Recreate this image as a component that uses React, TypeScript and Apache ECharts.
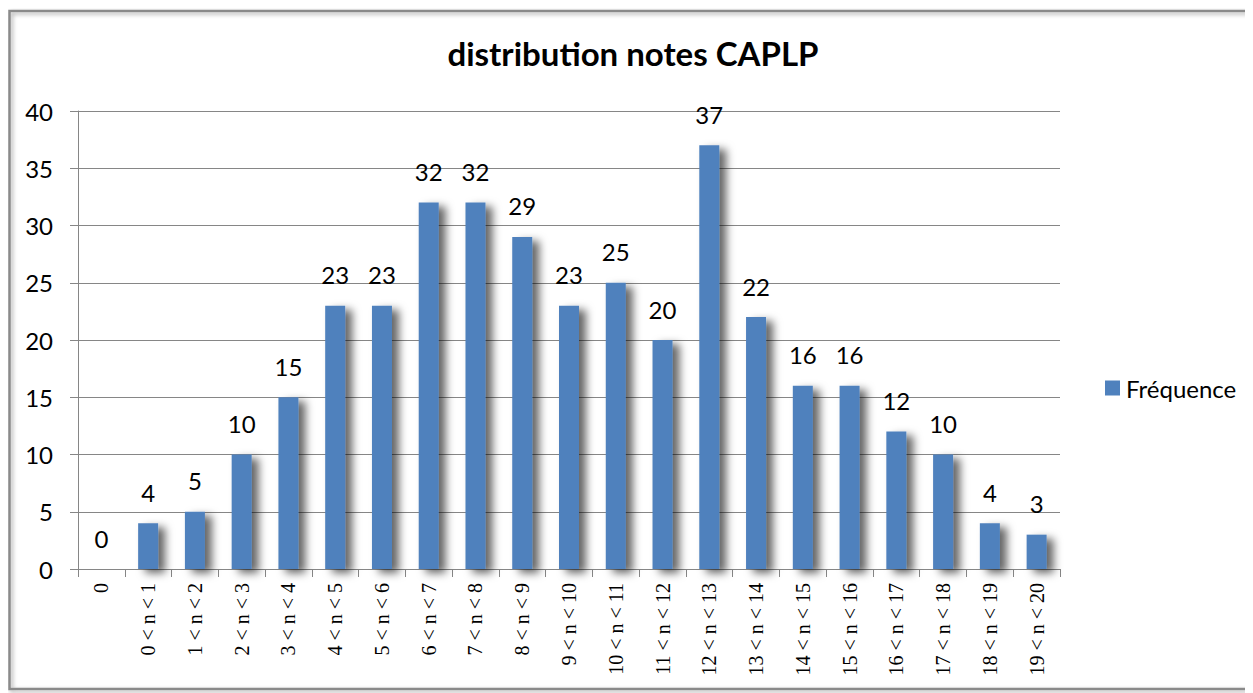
import React, { useEffect, useRef } from "react";
import * as echarts from "echarts";

const categories = [
  "0", "0 < n < 1", "1 < n < 2", "2 < n < 3", "3 < n < 4", "4 < n < 5",
  "5 < n < 6", "6 < n < 7", "7 < n < 8", "8 < n < 9", "9 < n < 10",
  "10 < n < 11", "11 < n < 12", "12 < n < 13", "13 < n < 14", "14 < n < 15",
  "15 < n < 16", "16 < n < 17", "17 < n < 18", "18 < n < 19", "19 < n < 20",
];
const frequence = [0, 4, 5, 10, 15, 23, 23, 32, 32, 29, 23, 25, 20, 37, 22, 16, 16, 12, 10, 4, 3];
const yTicks = { min: 0, max: 40, interval: 5 };
const titleText = "distribution notes CAPLP";
const seriesName = "Fréquence";

export default function App() {
  const ref = useRef<HTMLDivElement>(null);
  useEffect(() => {
    if (!ref.current) return;
    const chart = echarts.init(ref.current, undefined, { renderer: "svg" });
    const sans = "Lato, 'Liberation Sans', sans-serif";
    chart.setOption({
      animation: false,
      backgroundColor: "#ffffff",
      graphic: [
        {
          type: "polyline",
          shape: { points: [[1320, 3], [1.5, 3], [1.5, 681], [1320, 681]] },
          style: {
            fill: "none",
            stroke: "#8a8a8a",
            lineWidth: 2.5,
            shadowBlur: 4,
            shadowOffsetX: 2,
            shadowOffsetY: 2,
            shadowColor: "rgba(0,0,0,0.35)",
          },
          silent: true,
          z: 100,
        },
        {
          type: "text",
          x: 625,
          y: 45,
          style: {
            text: titleText,
            font: `bold 33px ${sans}`,
            fill: "#000000",
            textAlign: "center",
            textVerticalAlign: "middle",
          },
        },
      ],
      legend: {
        left: 1092,
        top: 363,
        itemWidth: 15,
        itemHeight: 15,
        icon: "rect",
        data: [seriesName],
        textStyle: { fontFamily: sans, fontSize: 24, color: "#000", padding: [0, 0, 0, 1] },
      },
      grid: { left: 70, top: 103, width: 982, height: 458, containLabel: false },
      xAxis: {
        type: "category",
        data: categories,
        boundaryGap: true,
        axisLine: { show: true, lineStyle: { color: "#868686", width: 1 } },
        axisTick: { show: true, length: 8, lineStyle: { color: "#868686" }, interval: 0 },
        axisLabel: {
          interval: 0,
          rotate: 90,
          margin: 14,
          fontFamily: "'Liberation Serif', 'Times New Roman', serif",
          fontSize: 20,
          color: "#000",
        },
      },
      yAxis: {
        type: "value",
        min: yTicks.min,
        max: yTicks.max,
        interval: yTicks.interval,
        axisLine: { show: true, lineStyle: { color: "#868686", width: 1 } },
        axisTick: { show: true, length: 8, lineStyle: { color: "#868686" } },
        splitLine: { show: true, lineStyle: { color: "#868686", width: 1 } },
        axisLabel: { margin: 25, fontFamily: sans, fontSize: 24, color: "#000" },
      },
      series: [
        {
          name: seriesName,
          type: "bar",
          data: frequence,
          barWidth: 20,
          itemStyle: {
            color: "#4f81bd",
            shadowBlur: 9,
            shadowOffsetX: 7,
            shadowOffsetY: 4,
            shadowColor: "rgba(0,0,0,0.6)",
          },
          label: {
            show: true,
            position: "top",
            distance: 19,
            fontFamily: sans,
            fontSize: 24,
            color: "#000",
          },
        },
      ],
    });
    return () => chart.dispose();
  }, []);
  return (
    <div style={{ width: 1245, height: 685, overflow: "hidden" }}>
      <div ref={ref} style={{ width: 1245, height: 685 }} />
    </div>
  );
}
